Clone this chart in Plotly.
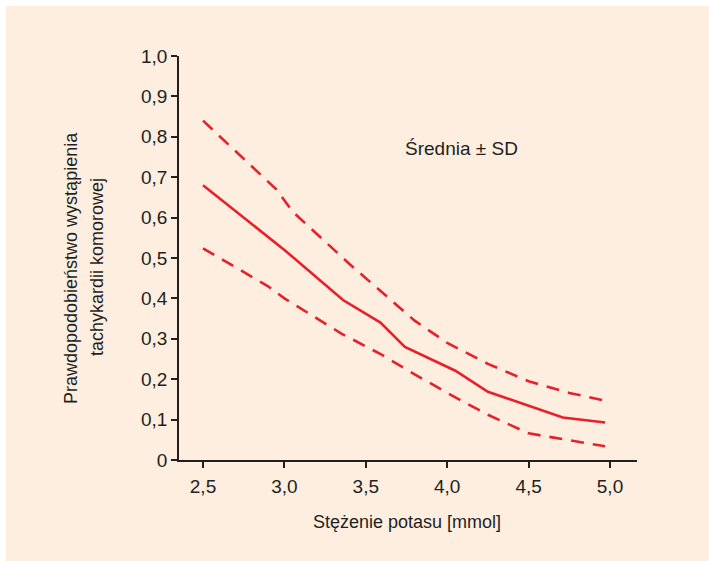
import plotly.graph_objects as go

# Data
mean_x = [2.5, 3.0, 3.36, 3.59, 3.74, 4.05, 4.25, 4.71, 4.97]
mean_y = [0.68, 0.52, 0.396, 0.34, 0.28, 0.221, 0.169, 0.105, 0.093]

upper_x = [2.5, 2.95, 3.05, 3.4, 3.6, 3.8, 4.0, 4.25, 4.5, 4.75, 4.97]
upper_y = [0.84, 0.67, 0.615, 0.485, 0.415, 0.345, 0.29, 0.238, 0.195, 0.166, 0.147]

lower_x = [2.5, 2.9, 3.0, 3.35, 3.6, 3.8, 4.05, 4.25, 4.5, 4.75, 4.97]
lower_y = [0.524, 0.43, 0.40, 0.313, 0.26, 0.212, 0.155, 0.112, 0.066, 0.049, 0.034]

x_ticks = [2.5, 3.0, 3.5, 4.0, 4.5, 5.0]
x_ticktext = ["2,5", "3,0", "3,5", "4,0", "4,5", "5,0"]
y_ticks = [0, 0.1, 0.2, 0.3, 0.4, 0.5, 0.6, 0.7, 0.8, 0.9, 1.0]
y_ticktext = ["0", "0,1", "0,2", "0,3", "0,4", "0,5", "0,6", "0,7", "0,8", "0,9", "1,0"]

RED = "#E8202A"
TXT = "#231F20"
FONT = "Liberation Sans, Arial, sans-serif"

fig = go.Figure()
fig.add_trace(go.Scatter(x=upper_x, y=upper_y, mode="lines",
                         line=dict(color=RED, width=2.6, dash="13px,9px"), showlegend=False))
fig.add_trace(go.Scatter(x=lower_x, y=lower_y, mode="lines",
                         line=dict(color=RED, width=2.6, dash="13px,9px"), showlegend=False))
fig.add_trace(go.Scatter(x=mean_x, y=mean_y, mode="lines",
                         line=dict(color=RED, width=2.6), showlegend=False))

L, R, T, B = 179, 637, 56, 460
W, H = 709, 561
pw, ph = R - L, B - T


def px(xp):
    return (xp - L) / pw


def py(yp):
    return (B - yp) / ph


fig.add_shape(type="rect", xref="paper", yref="paper",
              x0=px(6), x1=px(W + 5), y0=py(H + 5), y1=py(6),
              fillcolor="#FDEEE0", line=dict(width=0), layer="below")

ann = dict(xref="paper", yref="paper", showarrow=False, xanchor="center", yanchor="middle")
fig.add_annotation(x=px(461), y=py(148), text="Średnia ± SD",
                   font=dict(family=FONT, size=19, color=TXT), **ann)
fig.add_annotation(x=px(407), y=py(522), text="Stężenie potasu [mmol]",
                   font=dict(family=FONT, size=18, color=TXT), **ann)
fig.add_annotation(x=px(71), y=py(268), text="Prawdopodobieństwo wystąpienia", textangle=-90,
                   font=dict(family=FONT, size=18, color=TXT), **ann)
fig.add_annotation(x=px(97), y=py(267), text="tachykardii komorowej", textangle=-90,
                   font=dict(family=FONT, size=18, color=TXT), **ann)

fig.update_layout(
    width=W, height=H,
    margin=dict(l=L, r=W - R, t=T, b=H - B),
    paper_bgcolor="white", plot_bgcolor="rgba(0,0,0,0)",
    font=dict(family=FONT, size=19, color=TXT),
    xaxis=dict(range=[2.3526, 5.1658], tickvals=x_ticks, ticktext=x_ticktext,
               showgrid=False, zeroline=False, showline=True, linecolor=TXT, linewidth=1.5,
               ticks="outside", ticklen=6, tickwidth=1.5, tickcolor=TXT,
               ticklabelstandoff=2),
    yaxis=dict(range=[0, 1.0], tickvals=y_ticks, ticktext=y_ticktext,
               showgrid=False, zeroline=False, showline=True, linecolor=TXT, linewidth=1.5,
               ticks="outside", ticklen=6, tickwidth=1.5, tickcolor=TXT),
)

fig.write_html("out.html", config={"displayModeBar": False},
               post_script="document.body.style.margin='0';")
